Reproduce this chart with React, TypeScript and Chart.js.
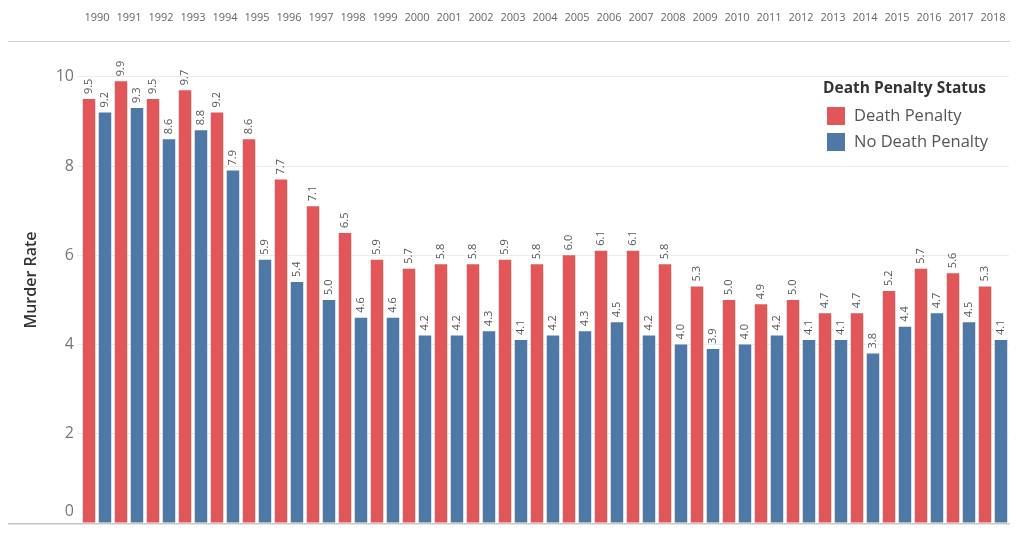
import React, { useEffect, useRef } from "react";
import { Chart, registerables } from "chart.js";

Chart.register(...registerables);

const years = [
  "1990", "1991", "1992", "1993", "1994", "1995", "1996", "1997", "1998", "1999",
  "2000", "2001", "2002", "2003", "2004", "2005", "2006", "2007", "2008", "2009",
  "2010", "2011", "2012", "2013", "2014", "2015", "2016", "2017", "2018",
];

const deathPenalty = [
  9.5, 9.9, 9.5, 9.7, 9.2, 8.6, 7.7, 7.1, 6.5, 5.9,
  5.7, 5.8, 5.8, 5.9, 5.8, 6.0, 6.1, 6.1, 5.8, 5.3,
  5.0, 4.9, 5.0, 4.7, 4.7, 5.2, 5.7, 5.6, 5.3,
];

const noDeathPenalty = [
  9.2, 9.3, 8.6, 8.8, 7.9, 5.9, 5.4, 5.0, 4.6, 4.6,
  4.2, 4.2, 4.3, 4.1, 4.2, 4.3, 4.5, 4.2, 4.0, 3.9,
  4.0, 4.2, 4.1, 4.1, 3.8, 4.4, 4.7, 4.5, 4.1,
];

const yTicks = [0, 2, 4, 6, 8, 10];

const seriesLabels = ["Death Penalty", "No Death Penalty"];
const seriesColors = ["#E15759", "#4E79A7"];
const legendTitle = "Death Penalty Status";
const yTitle = "Murder Rate";

const FONT = "'Open Sans', 'Noto Sans', sans-serif";

const overlayPlugin = {
  id: "overlay",
  afterDatasetsDraw(chart: any) {
    const ctx = chart.ctx;
    ctx.save();
    ctx.font = `11px ${FONT}`;
    ctx.fillStyle = "#555555";
    chart.data.datasets.forEach((ds: any, di: number) => {
      const meta = chart.getDatasetMeta(di);
      meta.data.forEach((bar: any, i: number) => {
        const v = ds.data[i];
        ctx.save();
        ctx.translate(bar.x, bar.y - 5);
        ctx.rotate(-Math.PI / 2);
        ctx.textAlign = "left";
        ctx.textBaseline = "middle";
        ctx.fillText(v.toFixed(1), 0, 0);
        ctx.restore();
      });
    });
    ctx.restore();
  },
  afterDraw(chart: any) {
    const ctx = chart.ctx;
    const area = chart.chartArea;
    const y = chart.scales.y;
    const x = chart.scales.x;
    ctx.save();
    // top and bottom rules
    ctx.strokeStyle = "#d0d0d0";
    ctx.lineWidth = 1;
    ctx.beginPath();
    ctx.moveTo(8, area.top - 0.5);
    ctx.lineTo(area.right + 1, area.top - 0.5);
    ctx.stroke();
    ctx.strokeStyle = "#c8c8c8";
    ctx.lineWidth = 1.5;
    ctx.beginPath();
    ctx.moveTo(8, area.bottom + 0.75);
    ctx.lineTo(area.right + 1, area.bottom + 0.75);
    ctx.stroke();

    // year labels (top axis)
    ctx.font = `11px ${FONT}`;
    ctx.fillStyle = "#666666";
    ctx.textAlign = "center";
    ctx.textBaseline = "middle";
    years.forEach((yr, i) => {
      ctx.fillText(yr, x.getPixelForTick(i), 18);
    });

    // y tick labels
    ctx.font = `16px ${FONT}`;
    ctx.fillStyle = "#777777";
    ctx.textAlign = "right";
    ctx.textBaseline = "middle";
    yTicks.forEach((t) => {
      let py = y.getPixelForValue(t);
      if (py > area.bottom - 12) py = area.bottom - 12;
      ctx.fillText(String(t), 74, py);
    });

    // y title
    ctx.save();
    ctx.translate(31, 280);
    ctx.rotate(-Math.PI / 2);
    ctx.font = `600 16px ${FONT}`;
    ctx.fillStyle = "#333333";
    ctx.textAlign = "center";
    ctx.textBaseline = "middle";
    ctx.fillText(yTitle, 0, 0);
    ctx.restore();

    // legend
    const lx = 823;
    ctx.font = `bold 15.5px ${FONT}`;
    ctx.fillStyle = "#333333";
    ctx.textAlign = "left";
    ctx.textBaseline = "middle";
    ctx.fillText(legendTitle, lx, 89);
    chart.data.datasets.forEach((ds: any, di: number) => {
      const cy = 116 + di * 26;
      ctx.fillStyle = ds.backgroundColor;
      ctx.fillRect(lx + 4, cy - 9, 18, 18);
      ctx.font = `16.5px ${FONT}`;
      ctx.fillStyle = "#555555";
      ctx.fillText(ds.label, lx + 31, cy);
    });
    ctx.restore();
  },
};

export default function App() {
  const ref = useRef<HTMLCanvasElement | null>(null);
  useEffect(() => {
    document.body.style.margin = "0";
    if (!ref.current) return;
    const chart = new Chart(ref.current, {
      type: "bar",
      data: {
        labels: years,
        datasets: [
          {
            label: seriesLabels[0],
            data: deathPenalty,
            backgroundColor: seriesColors[0],
            categoryPercentage: 1,
            barPercentage: 0.78,
          },
          {
            label: seriesLabels[1],
            data: noDeathPenalty,
            backgroundColor: seriesColors[1],
            categoryPercentage: 1,
            barPercentage: 0.78,
          },
        ],
      },
      options: {
        animation: false,
        responsive: true,
        maintainAspectRatio: false,
        layout: { padding: { left: 77, right: 14, top: 34, bottom: 10 } },
        plugins: {
          legend: { display: false },
          tooltip: { enabled: false },
        },
        scales: {
          x: {
            position: "top",
            grid: { display: false },
            border: { display: false },
            ticks: { display: false },
          },
          y: {
            min: 0,
            max: 10.78,
            border: { display: false },
            grid: { color: "#ececec", lineWidth: 1, drawTicks: true, tickLength: 4 },
            ticks: { display: false, stepSize: 2, includeBounds: false },
          },
        },
      },
      plugins: [overlayPlugin],
    });
    return () => chart.destroy();
  }, []);
  return (
    <div style={{ position: "fixed", left: 0, top: 0, width: 1023, height: 533, background: "#fff" }}>
      <canvas ref={ref} />
    </div>
  );
}
